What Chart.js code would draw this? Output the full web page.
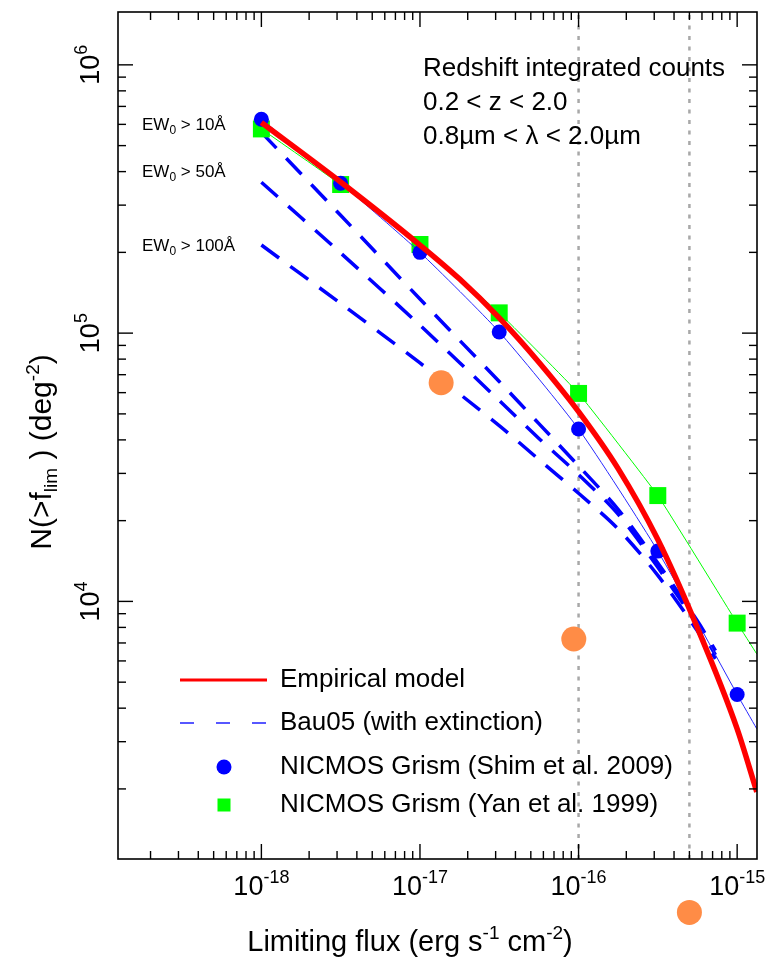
<!DOCTYPE html>
<html><head><meta charset="utf-8">
<script src="https://cdn.jsdelivr.net/npm/chart.js@4.4.1/dist/chart.umd.min.js"></script>
<style>html,body{margin:0;padding:0;background:#fff;}canvas{display:block;}</style>
</head><body>
<canvas id="c" width="775" height="967"></canvas>
<script>
// ---------------- data ----------------
const fluxBins   = [1e-18, 3.16e-18, 1e-17, 3.16e-17, 1e-16, 3.16e-16, 1e-15];
const shimCounts = [6.27e5, 3.62e5, 2.0e5, 1.01e5, 4.39e4, 1.54e4, 4.5e3];
const yanCounts  = [5.77e5, 3.58e5, 2.14e5, 1.19e5, 5.96e4, 2.48e4, 8.3e3];

const curveFlux       = [1e-18, 3.16e-18, 1e-17, 3.16e-17, 1e-16, 3.16e-16, 1e-15, 1.33e-15];
const shimCurveCounts = [6.27e5, 3.62e5, 2.0e5, 1.01e5, 4.39e4, 1.54e4, 4.5e3, 3.35e3];
const yanCurveCounts  = [5.77e5, 3.58e5, 2.14e5, 1.19e5, 5.96e4, 2.48e4, 8.3e3, 6.37e3];

const modelFlux   = [1e-18, 3.16e-18, 1e-17, 1.78e-17, 3.16e-17, 5.62e-17, 1e-16, 1.78e-16, 3.16e-16, 5.62e-16, 1e-15, 1.33e-15];
const modelCounts = [6.1e5, 3.66e5, 2.13e5, 1.59e5, 1.14e5, 7.79e4, 5.1e4, 3.12e4, 1.7e4, 7.96e3, 3.35e3, 1.95e3];

const bauFlux   = [1e-18, 3.16e-18, 1e-17, 3.16e-17, 5.62e-17, 1e-16, 1.78e-16, 3.16e-16, 5.62e-16, 7.3e-16];
const bauEW10   = [5.6e5, 2.75e5, 1.34e5, 6.6e4, 4.6e4, 3.2e4, 2.2e4, 1.39e4, 8.45e3, 6.55e3];
const bauEW50   = [3.65e5, 1.99e5, 1.07e5, 5.61e4, 4.05e4, 2.97e4, 2.11e4, 1.34e4, 8.17e3, 6.32e3];
const bauEW100  = [2.13e5, 1.29e5, 7.74e4, 4.52e4, 3.38e4, 2.53e4, 1.86e4, 1.25e4, 7.76e3, 6.11e3];

const extraFlux   = [1.36e-17, 9.33e-17, 5.0e-16];
const extraCounts = [6.53e4, 7.24e3, 693];

const refFlux = [1e-16, 5e-16];

const xRange = [1.247e-19, 1.334e-15];
const yRange = [1096, 1.574e6];
const xMajorExp = [-18, -17, -16, -15];
const yMajorExp = [4, 5, 6];

const seriesNames = ['Empirical model', 'Bau05 (with extinction)', 'NICMOS Grism (Shim et al. 2009)', 'NICMOS Grism (Yan et al. 1999)'];
const ewLabels = ['10', '50', '100'];
const infoLines = ['Redshift integrated counts', '0.2 < z < 2.0', '0.8\u00b5m < \u03bb < 2.0\u00b5m'];

// ---------------- helpers ----------------
const FONT = '"Liberation Sans", Arial, Helvetica, sans-serif';
const zip = (xs, ys) => xs.map((v, i) => ({x: v, y: ys[i]}));

function rich(ctx, parts, x, baseline, align) {
  let w = 0;
  parts.forEach(p => { ctx.font = p.s + 'px ' + FONT; p.w = ctx.measureText(p.t).width; w += p.w; });
  let xx = align === 'left' ? x : x - w / 2;
  ctx.textAlign = 'left'; ctx.textBaseline = 'alphabetic';
  parts.forEach(p => { ctx.font = p.s + 'px ' + FONT; ctx.fillText(p.t, xx, baseline + (p.dy || 0)); xx += p.w; });
}

const decor = {
  id: 'decor',
  afterDatasetsDraw(chart) {
    const {ctx, chartArea: a, scales: {x, y}} = chart;
    ctx.save();
    // extra (orange) markers, drawn through the scales so the one below the axis also shows
    ctx.fillStyle = '#ff8c46';
    extraFlux.forEach((f, i) => {
      ctx.beginPath(); ctx.arc(x.getPixelForValue(f), y.getPixelForValue(extraCounts[i]), 12.5, 0, Math.PI * 2); ctx.fill();
    });
    ctx.strokeStyle = '#000'; ctx.fillStyle = '#000';
    ctx.lineWidth = 1.6;
    ctx.strokeRect(a.left, a.top, a.right - a.left, a.bottom - a.top);
    ctx.lineWidth = 1.4;
    const seg = (x1, y1, x2, y2) => { ctx.beginPath(); ctx.moveTo(x1, y1); ctx.lineTo(x2, y2); ctx.stroke(); };
    for (let e = -19; e <= -15; e++) for (let k = 1; k <= 9; k++) {
      const px = x.getPixelForValue(k * Math.pow(10, e));
      if (px < a.left + 1 || px > a.right - 1) continue;
      const len = k === 1 ? 15 : 8;
      seg(px, a.bottom, px, a.bottom - len); seg(px, a.top, px, a.top + len);
    }
    for (let e = 3; e <= 6; e++) for (let k = 1; k <= 9; k++) {
      const py = y.getPixelForValue(k * Math.pow(10, e));
      if (py < a.top + 1 || py > a.bottom - 1) continue;
      const len = k === 1 ? 15 : 8;
      seg(a.left, py, a.left + len, py); seg(a.right, py, a.right - len, py);
    }
    // x tick labels
    xMajorExp.forEach(e => {
      const px = x.getPixelForValue(Math.pow(10, e));
      rich(ctx, [{t: '10', s: 27}, {t: String(e), s: 18, dy: -12}], px, 895);
    });
    // y tick labels (rotated)
    yMajorExp.forEach(e => {
      const py = y.getPixelForValue(Math.pow(10, e));
      ctx.save(); ctx.translate(99, py); ctx.rotate(-Math.PI / 2);
      rich(ctx, [{t: '10', s: 27}, {t: String(e), s: 18, dy: -12}], 0, 0);
      ctx.restore();
    });
    // axis titles
    rich(ctx, [{t: 'Limiting flux (erg s', s: 29}, {t: '-1', s: 19, dy: -12}, {t: ' cm', s: 29}, {t: '-2', s: 19, dy: -12}, {t: ')', s: 29}], 410, 951);
    ctx.save(); ctx.translate(51, 452); ctx.rotate(-Math.PI / 2);
    rich(ctx, [{t: 'N(>f', s: 30}, {t: 'lim', s: 19, dy: 6}, {t: ' ) (deg', s: 30}, {t: '-2', s: 19, dy: -12}, {t: ')', s: 30}], 0, 0);
    ctx.restore();
    // info text
    ctx.font = '26px ' + FONT; ctx.textAlign = 'left'; ctx.textBaseline = 'middle';
    infoLines.forEach((t, i) => ctx.fillText(t, 423, [69, 103, 137][i]));
    // EW labels
    ewLabels.forEach((t, i) => {
      rich(ctx, [{t: 'EW', s: 17}, {t: '0', s: 12, dy: 4}, {t: ' > ' + t + '\u00c5', s: 17}], 142, [130, 177, 251][i], 'left');
    });
    // legend
    ctx.lineWidth = 3; ctx.strokeStyle = '#ff0000'; seg(180, 680, 267, 680);
    ctx.lineWidth = 1.5; ctx.strokeStyle = '#2020ff'; ctx.setLineDash([14, 22]); seg(180, 723, 267, 723); ctx.setLineDash([]);
    ctx.fillStyle = '#0000ff'; ctx.beginPath(); ctx.arc(224, 767, 7.5, 0, Math.PI * 2); ctx.fill();
    ctx.fillStyle = '#00ff00'; ctx.fillRect(217.5, 798.5, 13, 13);
    ctx.fillStyle = '#000'; ctx.font = '26px ' + FONT; ctx.textBaseline = 'middle';
    seriesNames.forEach((t, i) => ctx.fillText(t, 280, [680, 723, 767, 805][i]));
    ctx.restore();
  }
};

const dashStyle = {showLine: true, borderColor: '#0000ff', borderWidth: 3.5, borderDash: [22, 14], pointRadius: 0, tension: 0.3, fill: false, order: 6};

new Chart(document.getElementById('c'), {
  type: 'scatter',
  data: {
    datasets: [
      {data: zip(modelFlux, modelCounts), showLine: true, borderColor: '#ff0000', borderWidth: 5.5, pointRadius: 0, tension: 0.4, cubicInterpolationMode: 'monotone', order: 1},
      {data: zip(fluxBins, shimCounts), pointRadius: 7.5, pointBackgroundColor: '#0000ff', pointBorderWidth: 0, order: 2},
      {data: zip(curveFlux, shimCurveCounts), showLine: true, borderColor: '#2828ff', borderWidth: 1, pointRadius: 0, tension: 0.2, order: 3},
      {data: zip(fluxBins, yanCounts), pointStyle: 'rect', pointRadius: 12, pointBackgroundColor: '#00ff00', pointBorderWidth: 0, order: 4},
      {data: zip(curveFlux, yanCurveCounts), showLine: true, borderColor: '#00ff00', borderWidth: 1, pointRadius: 0, tension: 0.1, order: 5},
      Object.assign({data: zip(bauFlux, bauEW10)}, dashStyle),
      Object.assign({data: zip(bauFlux, bauEW50)}, dashStyle),
      Object.assign({data: zip(bauFlux, bauEW100)}, dashStyle),
      ...refFlux.map(f => ({data: [{x: f, y: yRange[0]}, {x: f, y: yRange[1]}], showLine: true, borderColor: '#a8a8a8', borderWidth: 2.5, borderDash: [4, 6.5], pointRadius: 0, order: 7}))
    ]
  },
  options: {
    responsive: false, animation: false, devicePixelRatio: 1,
    layout: {padding: {left: 118, right: 18, top: 9, bottom: 108}},
    plugins: {legend: {display: false}, tooltip: {enabled: false}},
    scales: {
      x: {type: 'logarithmic', min: xRange[0], max: xRange[1], display: false},
      y: {type: 'logarithmic', min: yRange[0], max: yRange[1], display: false}
    }
  },
  plugins: [decor]
});
</script>
</body></html>
